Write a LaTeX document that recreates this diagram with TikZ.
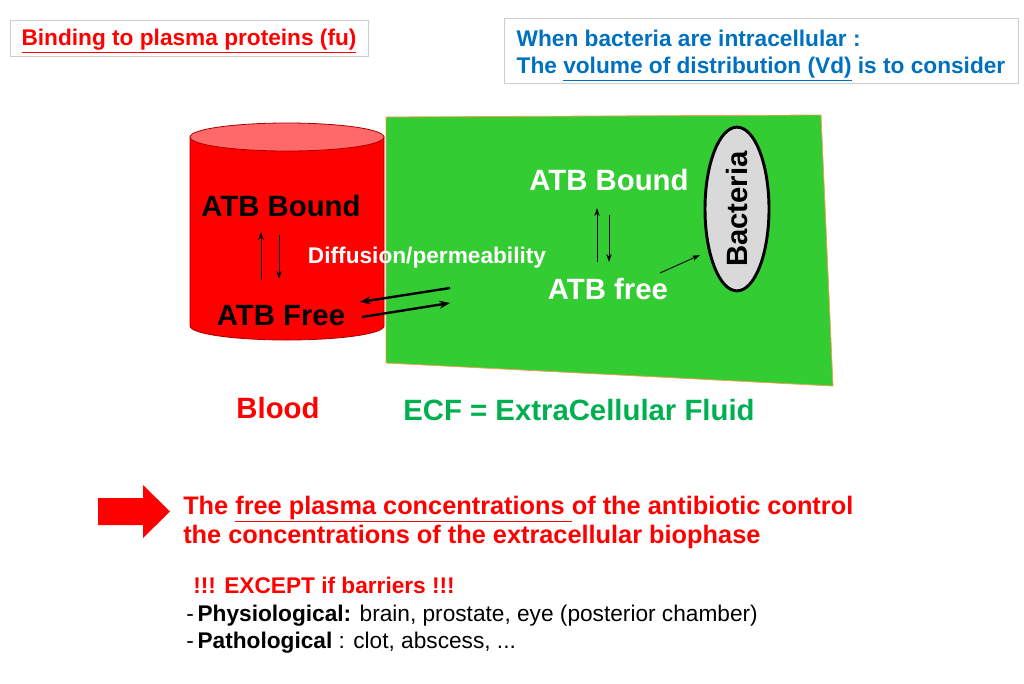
\documentclass[tikz,border=0pt]{standalone}
\usepackage{fontspec}
\setmainfont{Liberation Sans}
\usetikzlibrary{arrows.meta,shapes.geometric,calc}

\definecolor{slidered}{RGB}{255,0,0}
\definecolor{cyltop}{RGB}{255,105,105}
\definecolor{cyledge}{RGB}{170,0,0}
\definecolor{ecfgreen}{RGB}{51,204,51}
\definecolor{ecfedge}{RGB}{240,160,80}
\definecolor{ecftext}{RGB}{0,176,80}
\definecolor{titleblue}{RGB}{0,112,192}
\definecolor{boxgray}{RGB}{205,205,205}
\definecolor{bactgray}{RGB}{217,217,217}

\tikzset{
  bigtext/.style={font=\bfseries\fontsize{22}{26}\selectfont, inner sep=0pt},
  midtext/.style={font=\bfseries\fontsize{17}{20.4}\selectfont, inner sep=0pt},
  bodytext/.style={font=\fontsize{17}{20.4}\selectfont, inner sep=0pt, anchor=base west},
  titlebox/.style={draw=boxgray, line width=0.6pt, midtext, align=left},
  thinarrow/.style={->, line width=0.7pt},
  thickarrow/.style={-{Stealth[length=8pt,width=6pt]}, line width=1.8pt}
}

\begin{document}
\begin{tikzpicture}[x=0.75pt, y=-0.75pt, >={Stealth[length=6pt,width=4pt]}]

        \useasboundingbox (0,0) rectangle (1024,683);

        % Title boxes
        \node[titlebox, text=slidered, minimum width=268.5pt, minimum height=27pt] (binding) at (189,38) {\rule{0pt}{17pt}\underline{Binding to plasma proteins (fu)}};
        \node[titlebox, text=titleblue, minimum width=385.5pt, minimum height=48.75pt] (vd) at (761,50.5)
            {\rule{0pt}{20pt}When bacteria are intracellular :\\The \underline{volume of distribution (Vd)} is to consider};

        % Blood compartment (cylinder)
        \fill[slidered, draw=cyledge, line width=0.6pt] (190,137) -- (190,326) arc[start angle=180, end angle=0, x radius=97, y radius=14] -- (384,137) -- cycle;
        \filldraw[fill=cyltop, draw=cyledge, line width=0.6pt] (287,137) ellipse[x radius=97, y radius=14];

        % ECF compartment
        \filldraw[fill=ecfgreen, draw=ecfedge, line width=0.6pt] (386,117) -- (821,115) -- (833,386) -- (386,363) -- cycle;

        % Bacteria
        \node[ellipse, draw=black, line width=2.2pt, fill=bactgray, rotate=90, minimum width=110pt, minimum height=48pt, inner sep=0pt,
              font=\bfseries\fontsize{22}{26}\selectfont] (bact) at (737,209) {Bacteria};

        % Labels
        \node[bigtext] (bbound) at (281,206) {ATB Bound};
        \node[bigtext] (bfree) at (281,316) {ATB Free};
        \node[midtext, text=white] (diff) at (427,258) {Diffusion/permeability};
        \node[bigtext, text=white] (ebound) at (609,180) {ATB Bound};
        \node[bigtext, text=white] (efree) at (608,289) {ATB free};
        \node[bigtext, text=slidered] (blood) at (278,408) {Blood};
        \node[bigtext, text=ecftext] (ecf) at (579,410) {ECF = ExtraCellular Fluid};

        % Binding equilibrium in blood
        \draw[thinarrow] ($(bfree.center)+(-20,-36)$) -- ($(bbound.center)+(-20,26)$);
        \draw[thinarrow] ($(bbound.center)+(-2,29)$) -- ($(bfree.center)+(-2,-37)$);
        % Binding equilibrium in ECF
        \draw[thinarrow] ($(efree.center)+(-11,-27)$) -- ($(ebound.center)+(-12,28)$);
        \draw[thinarrow] ($(ebound.center)+(0,35)$) -- ($(efree.center)+(1,-27)$);
        % Uptake into bacteria
        \draw[thinarrow] ($(efree.center)+(52,-16)$) -- ($(bact.center)+(-37,46)$);

        % Diffusion between blood and ECF
        \draw[thickarrow] ($(bfree.center)+(169,-28)$) -- ($(bfree.center)+(79,-14)$);
        \draw[thickarrow] ($(bfree.center)+(81,1)$) -- ($(bfree.center)+(169,-13)$);

        % Conclusion arrow
        \fill[slidered] (98,498) -- (143,498) -- (143,485) -- (170,511.5) -- (143,538) -- (143,525) -- (98,525) -- cycle;

        % Conclusion text
        \node[bodytext, font=\bfseries\fontsize{19}{22}\selectfont, text=slidered] (concl1) at (183,514) {The \underline{free plasma concentrations }of the antibiotic control};
        \node[bodytext, font=\bfseries\fontsize{19}{22}\selectfont, text=slidered] (concl2) at (183,543) {the concentrations of the extracellular biophase};

        % Barriers
        \node[bodytext, font=\bfseries\fontsize{17}{20.4}\selectfont, text=slidered] (except) at (193,593) {!!! EXCEPT if barriers !!!};
        \node[bodytext] (physio) at (186,621) {-\,\textbf{Physiological:} brain, prostate, eye (posterior chamber)};
        \node[bodytext] (patho) at (186,648) {-\,\textbf{Pathological} : clot, abscess, ...};

\end{tikzpicture}
\end{document}
